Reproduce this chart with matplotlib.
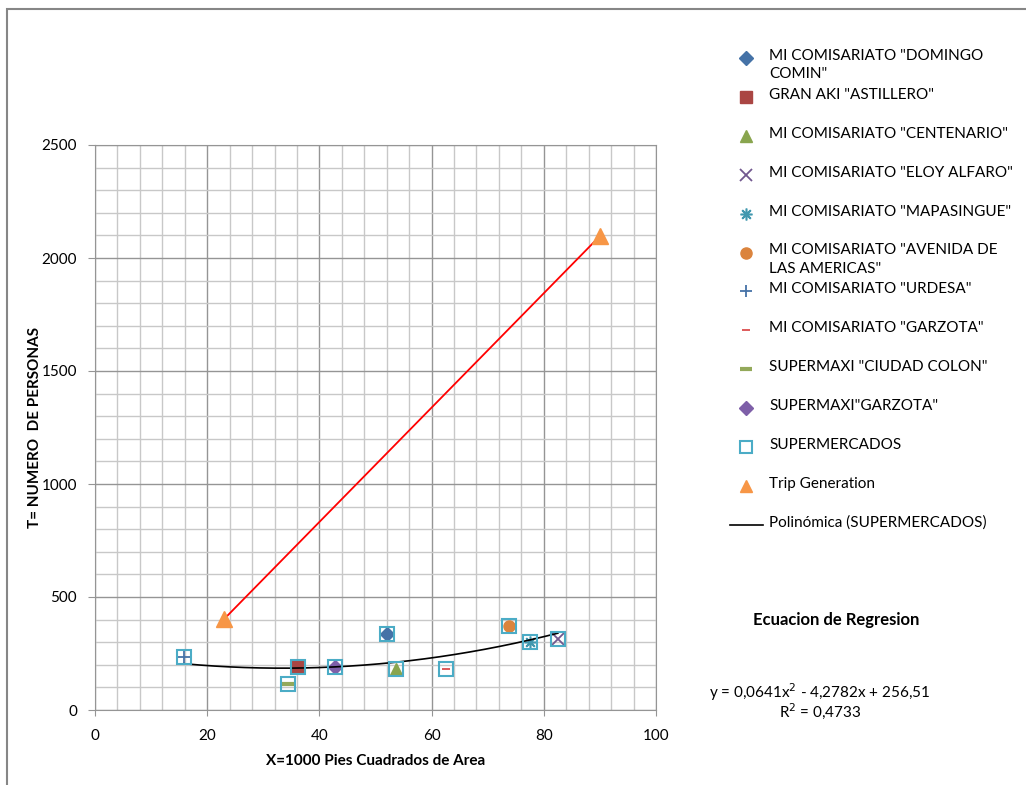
import matplotlib.pyplot as plt
import numpy as np
from matplotlib.lines import Line2D
from matplotlib.patches import Rectangle

plt.rcParams['font.family'] = ['Lato', 'DejaVu Sans']

# Supermarket data (x = 1000 sq ft, y = persons)
names = ['MI COMISARIATO "DOMINGO\nCOMIN"', 'GRAN AKI "ASTILLERO"',
         'MI COMISARIATO "CENTENARIO"', 'MI COMISARIATO "ELOY ALFARO"',
         'MI COMISARIATO "MAPASINGUE"', 'MI COMISARIATO "AVENIDA DE\nLAS AMERICAS"',
         'MI COMISARIATO "URDESA"', 'MI COMISARIATO "GARZOTA"',
         'SUPERMAXI "CIUDAD COLON"', 'SUPERMAXI"GARZOTA"']
store_x = [52.0, 36.1, 53.6, 82.5, 77.6, 73.8, 15.9, 62.5, 34.4, 42.8]
store_y = [335, 190, 182, 314, 302, 370, 235, 181, 113, 192]
markers = ['D', 's', '^', 'x', '$\u2733$', 'o', '+', '_', '_', 'D']
colors = ['#4572A7', '#AA4643', '#89A54E', '#71588F', '#4198AF', '#DB843D',
          '#4572A7', '#DB4D4D', '#93A95A', '#7E5FA8']
sizes = [7, 8, 9, 8, 8, 8, 9, 6, 8, 7]

# trip generation
trip_x = [23, 90]
trip_y = [402, 2097]

# regression
coef = [0.0641, -4.2782, 256.51]

fig = plt.figure(figsize=(10.26, 7.85), dpi=100)
ax = fig.add_axes([95/1026, 75/785, 561/1026, 565/785])

ax.set_xlim(0, 100)
ax.set_ylim(0, 2500)
ax.set_xticks(np.arange(0, 101, 20))
ax.set_yticks(np.arange(0, 2501, 500))
ax.set_xticks(np.arange(0, 101, 4), minor=True)
ax.set_yticks(np.arange(0, 2501, 100), minor=True)
ax.grid(True, which='major', color='#959595', lw=1.0)
ax.grid(True, which='minor', color='#C8C8C8', lw=1.0)
ax.set_axisbelow(True)
for s in ax.spines.values():
    s.set_color('#959595')
ax.tick_params(which='both', length=0, labelsize=11)
ax.tick_params(axis='x', which='major', length=4, color='#959595', direction='out', pad=10)
ax.tick_params(axis='y', which='major', length=5, color='#959595', direction='out', pad=8)

handles = []
for i in range(len(names)):
    mk = markers[i]
    kw = dict(marker=mk, color=colors[i], ms=sizes[i], ls='none', zorder=3)
    if mk in ('x', '+', '_'):
        kw['mew'] = 1.3
    if i == 8:
        kw['mew'] = 3
    h, = ax.plot(store_x[i], store_y[i], **kw)
    handles.append(h)

h_sup, = ax.plot(store_x, store_y, 's', ms=10, mfc='none', mec='#4BACC6',
                 mew=1.5, ls='none', zorder=4)
ax.plot(trip_x, trip_y, '-', color='#FF0000', lw=1.3, zorder=2)
h_trip, = ax.plot(trip_x, trip_y, '^', color='#F79646', ms=11, ls='none', zorder=5)

xs = np.linspace(min(store_x), max(store_x), 200)
h_poly, = ax.plot(xs, np.polyval(coef, xs), color='black', lw=1.2, zorder=3)

ax.set_xlabel('X=1000 Pies Cuadrados de Area', fontsize=11, fontweight='bold')
ax.set_ylabel('T= NUMERO  DE PERSONAS', fontsize=11, fontweight='bold')
ax.xaxis.set_label_coords(0.5, -0.077)
ax.yaxis.set_label_coords(-0.095, 0.5)

# outer chart border
fig.add_artist(Rectangle((7/1026, -0.1), 1.2, 1 - 9/785 + 0.1,
                         transform=fig.transFigure, fill=False,
                         ec='#868686', lw=1.5))

# legend drawn entry by entry (Excel style)
leg_labels = names + ['SUPERMERCADOS', 'Trip Generation', 'Polinómica (SUPERMERCADOS)']
leg_handles = handles + [h_sup, h_trip, h_poly]
y0 = 58
step = 38.9
for i, (lab, h) in enumerate(zip(leg_labels, leg_handles)):
    yp = 1 - (y0 + i * step) / 785
    if h is h_poly:
        fig.add_artist(Line2D([730/1026, 763/1026], [yp, yp], transform=fig.transFigure,
                              color='black', lw=1.2))
    else:
        ms = h.get_markersize()
        if h is h_sup:
            ms = 8
        fig.add_artist(Line2D([746/1026], [yp], transform=fig.transFigure,
                              marker=h.get_marker(), ls='none',
                              mfc=h.get_markerfacecolor(), mec=h.get_markeredgecolor(),
                              ms=min(ms, 9), mew=h.get_markeredgewidth()))
    fig.text(769/1026, yp + 9/785, lab, fontsize=11, va='top', ha='left',
             linespacing=1.4)

fig.text(836/1026, 1 - 620/785, 'Ecuacion de Regresion', fontsize=12,
         fontweight='bold', ha='center', va='center')
fig.text(820/1026, 1 - 692/785, 'y = 0,0641x$^2$ - 4,2782x + 256,51', fontsize=11,
         ha='center', va='center')
fig.text(820/1026, 1 - 711/785, 'R$^2$ = 0,4733', fontsize=11,
         ha='center', va='center')

fig.savefig('out.png', dpi=100)
